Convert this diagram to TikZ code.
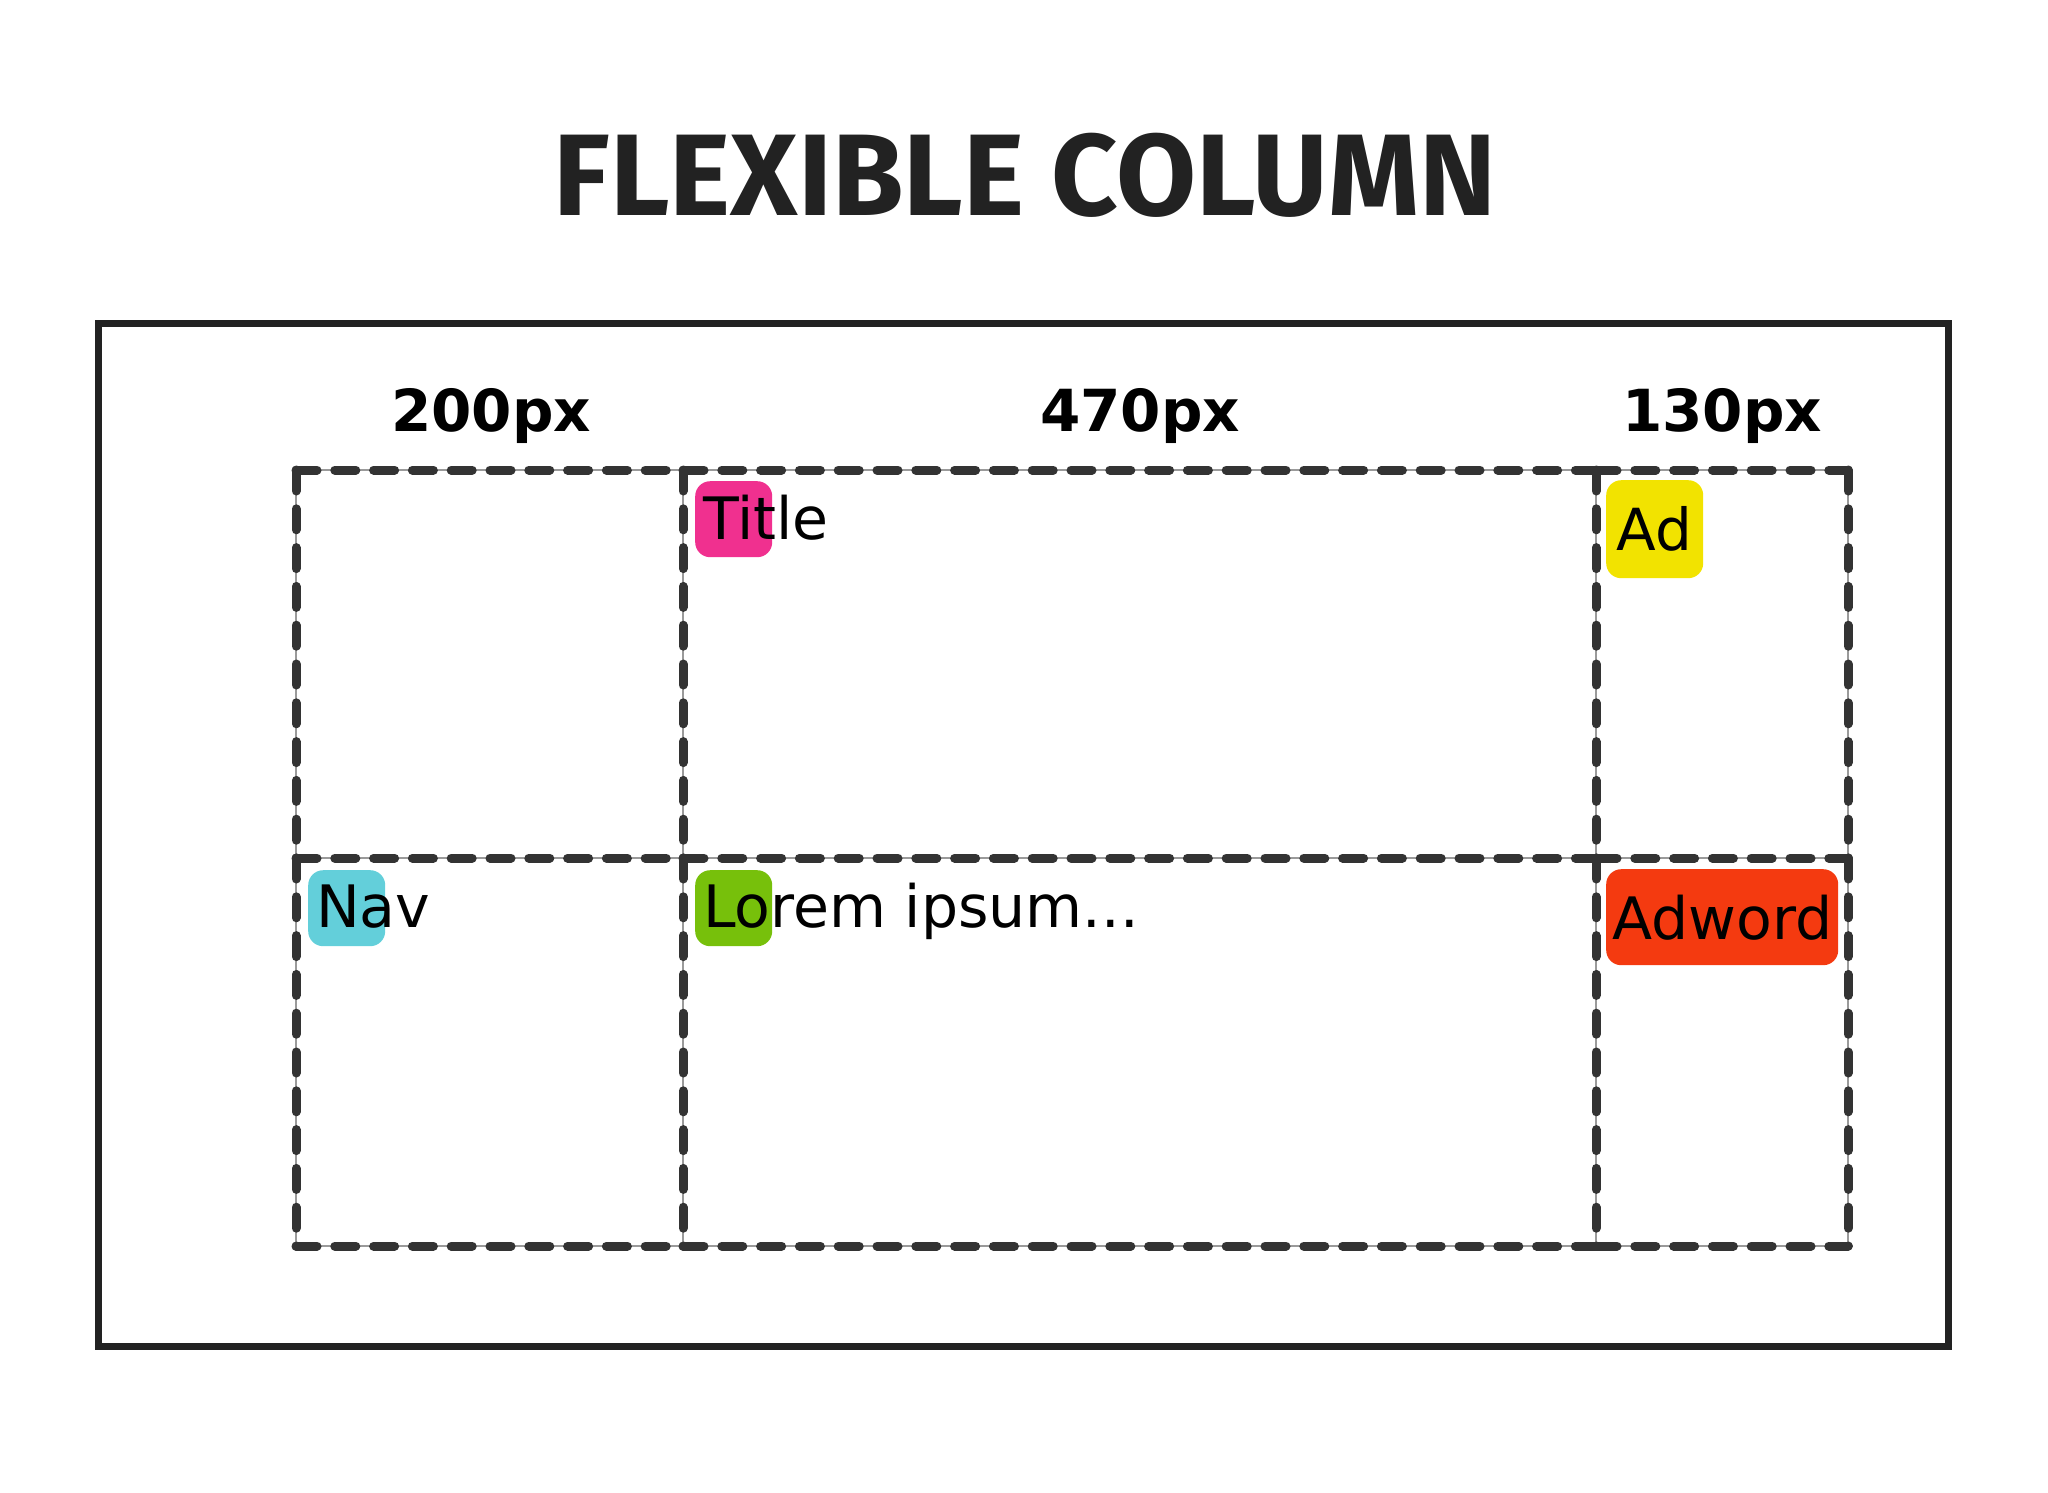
\documentclass[tikz,border=0pt]{standalone}
\usepackage{fontspec}
\setmainfont{DejaVu Sans}
\newfontfamily\headfont{Fira Sans}

\definecolor{inkgray}{HTML}{222222}
\definecolor{gridgray}{HTML}{333333}
\definecolor{guidegray}{HTML}{9A9A9A}
\definecolor{titlepink}{HTML}{F0308F}
\definecolor{navcyan}{HTML}{63CFDA}
\definecolor{loremgreen}{HTML}{77C00B}
\definecolor{adyellow}{HTML}{F2E300}
\definecolor{adwordred}{HTML}{F43A10}

\begin{document}
\begin{tikzpicture}[x=1pt, y=-1pt,
	cellline/.style={gridgray, line width=9pt, line cap=round, dash pattern=on 21pt off 17.8pt},
	cellguide/.style={guidegray, line width=1.5pt},
	colhead/.style={font=\fontsize{58}{62}\selectfont\bfseries, anchor=base, inner sep=0pt},
	tag/.style={rounded corners=15pt, minimum width=77pt, minimum height=76pt, inner sep=0pt, anchor=north west},
	cellword/.style={font=\fontsize{58.5}{62}\selectfont, anchor=base west, inner sep=0pt}]
			\useasboundingbox (0,0) rectangle (2048,1492);

			% Title
			\node[font=\headfont\bfseries\fontsize{116}{120}\selectfont, text=inkgray, anchor=base, inner sep=0pt] (title) at (1025,215) {FLEXIBLE COLUMN};

			% Outer frame
			\draw[inkgray, line width=7pt] (98,323) rectangle (1948,1346);

			% Column widths
			\node[colhead] (w200) at (491,431) {200px};
			\node[colhead] (w470) at (1140,431) {470px};
			\node[colhead] (w130) at (1722,431) {130px};

			% Thin guide lines under the dashes
			\foreach \xa/\xb in {296/683, 683/1596, 1596/1848}
				\foreach \ya/\yb in {470/858, 858/1246}
					\draw[cellguide] (\xa,\ya) rectangle (\xb,\yb);

			% Dashed cell borders, each starting at the top-left corner
			\foreach \xa/\xb in {296/683, 683/1596, 1596/1848}
				\foreach \ya/\yb in {470/858, 858/1246} {
					\draw[cellline] (\xa,\ya) -- (\xb,\ya);
					\draw[cellline] (\xa,\ya) -- (\xa,\yb);
				}
			\foreach \ya/\yb in {470/858, 858/1246}
				\draw[cellline] (1848,\ya) -- (1848,\yb);
			\foreach \xa/\xb in {296/683, 683/1596, 1596/1848}
				\draw[cellline] (\xa,1246) -- (\xb,1246);

			% Top row
			\node[tag, fill=titlepink] (titletag) at (695,481) {};
			\node[cellword] (titletext) at (703,539) {Title};
			\node[tag, fill=adyellow, minimum width=97pt, minimum height=98pt, font=\fontsize{58}{62}\selectfont] (ad) at (1606,480) {Ad};

			% Bottom row
			\node[tag, fill=navcyan] (navtag) at (308,870) {};
			\node[cellword] (navtext) at (316,927) {Nav};
			\node[tag, fill=loremgreen] (loremtag) at (695,870) {};
			\node[cellword] (loremtext) at (703,927) {Lorem ipsum...};
			\node[tag, fill=adwordred, minimum width=232pt, minimum height=96pt, font=\fontsize{58.5}{62}\selectfont] (adword) at (1606,869) {Adword};
		\end{tikzpicture}
\end{document}
